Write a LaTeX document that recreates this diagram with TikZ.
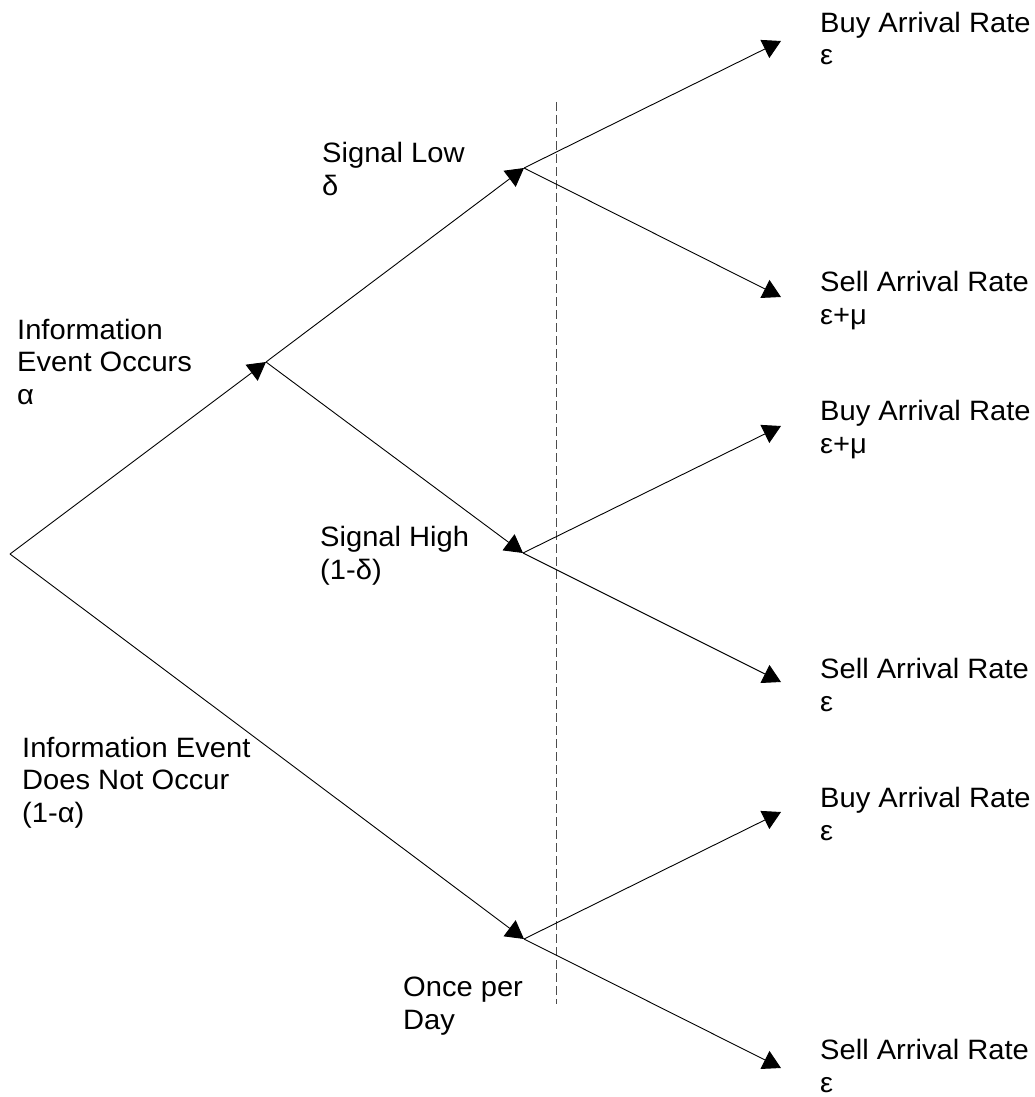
\documentclass[tikz,border=0pt]{standalone}
\usepackage{fontspec}
\setmainfont{Liberation Sans}[FakeStretch=1.04]
\usetikzlibrary{arrows.meta}

\begin{document}
\begin{tikzpicture}[x=1pt,y=-1pt,
  branch/.style={draw=black,line width=0.9pt,-{Triangle[length=18pt,width=20pt]}},
  horizon/.style={draw=black!70,line width=0.9pt,dash pattern=on 9pt off 4pt},
  lbl/.style={anchor=base west,inner sep=0pt,align=left,
    font=\fontsize{28}{32.5}\selectfont}]
\useasboundingbox (0,0) rectangle (1035,1097);

% tree points
\coordinate (O) at (10,554);
\coordinate (A) at (266,362);
\coordinate (L) at (524,168);
\coordinate (H) at (523,553);
\coordinate (N) at (524,939);
\coordinate (B1) at (781,41);
\coordinate (S1) at (781,297);
\coordinate (B2) at (781,426);
\coordinate (S2) at (781,682);
\coordinate (B3) at (781,812);
\coordinate (S3) at (781,1068);

% dashed time boundary
\coordinate (Dt) at (556,102);
\coordinate (Db) at (556,1004);
\draw[horizon] (Dt) -- (Db);

% branches
\draw[branch] (O) -- (A);
\draw[branch] (O) -- (N);
\draw[branch] (A) -- (L);
\draw[branch] (A) -- (H);
\draw[branch] (L) -- (B1);
\draw[branch] (L) -- (S1);
\draw[branch] (H) -- (B2);
\draw[branch] (H) -- (S2);
\draw[branch] (N) -- (B3);
\draw[branch] (N) -- (S3);

% labels (anchored at the baseline of their last line)
\node[lbl] (tA) at (17,404) {Information\\Event Occurs\\α};
\node[lbl] (tN) at (22,822) {Information Event\\Does Not Occur\\(1-α)};
\node[lbl] (tL) at (322,195) {Signal Low\\δ};
\node[lbl] (tH) at (320,579) {Signal High\\(1-δ)};
\node[lbl] (tD) at (403,1029) {Once per\\Day};
\node[lbl] (tB1) at (820,65) {Buy Arrival Rate\\ε};
\node[lbl] (tS1) at (820,324) {Sell Arrival Rate\\ε+μ};
\node[lbl] (tB2) at (820,453) {Buy Arrival Rate\\ε+μ};
\node[lbl] (tS2) at (820,711) {Sell Arrival Rate\\ε};
\node[lbl] (tB3) at (820,840) {Buy Arrival Rate\\ε};
\node[lbl] (tS3) at (820,1092) {Sell Arrival Rate\\ε};
\end{tikzpicture}
\end{document}
